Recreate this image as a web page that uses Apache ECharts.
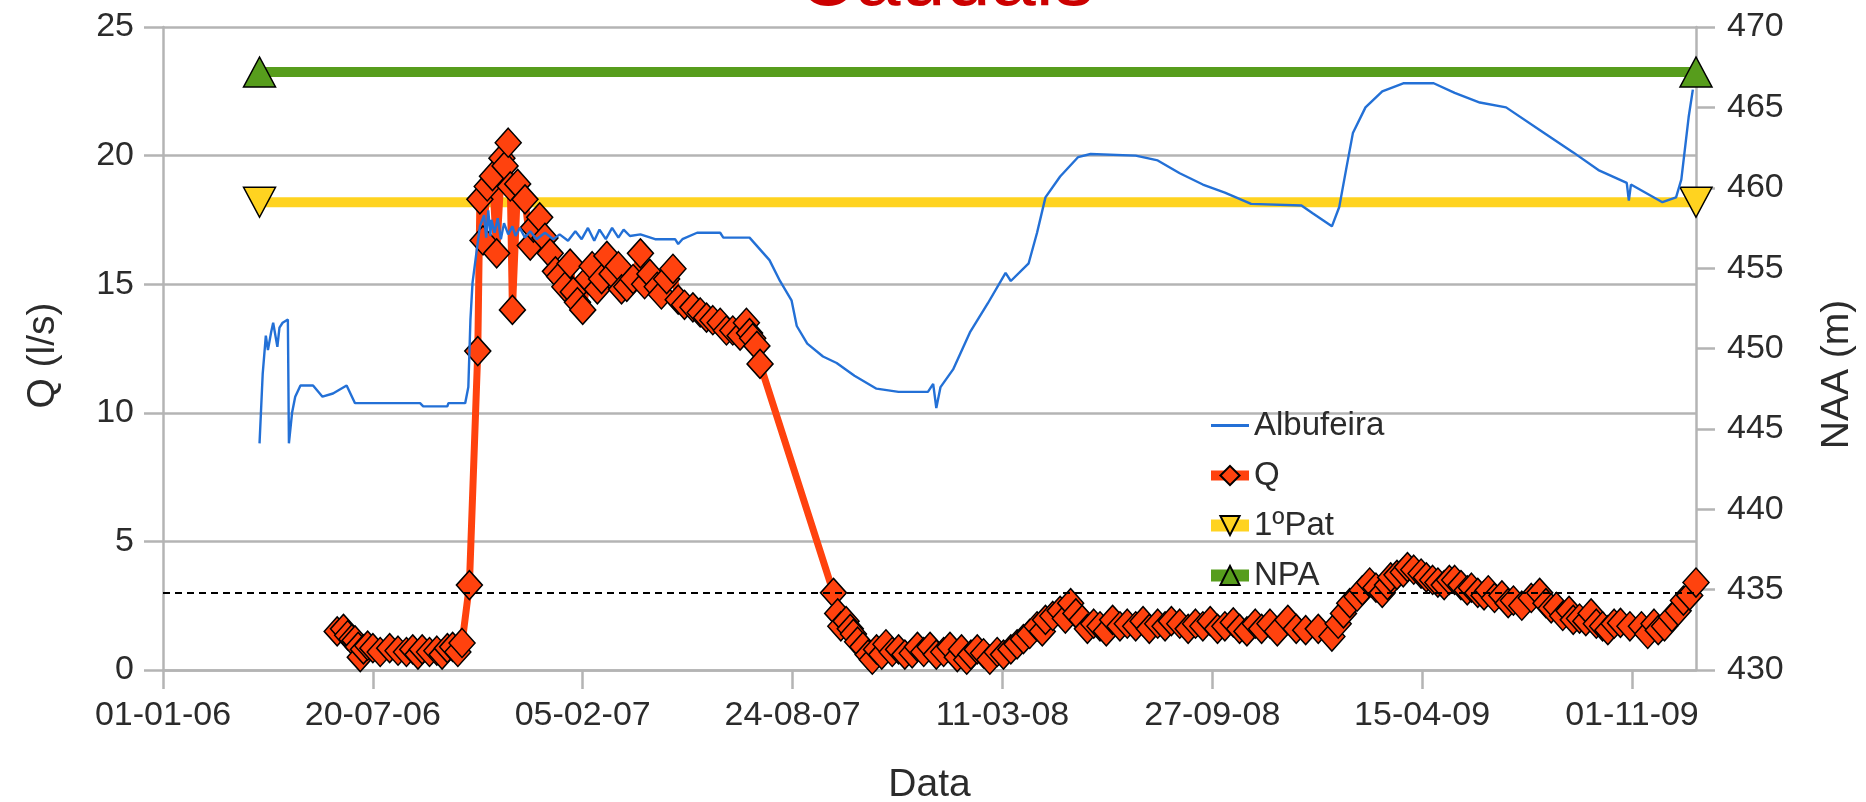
<!DOCTYPE html>
<html>
<head>
<meta charset="utf-8">
<title>Caudais</title>
<script src="https://cdn.jsdelivr.net/npm/echarts@6/dist/echarts.min.js"></script>
<style>
  html, body { margin: 0; padding: 0; background: #fff; }
  #chart { width: 1866px; height: 802px; }
</style>
</head>
<body>
<div id="chart"></div>
<script>
// x = days counted from 01-01-06
var xLabels = ['01-01-06', '20-07-06', '05-02-07', '24-08-07', '11-03-08', '27-09-08', '15-04-09', '01-11-09'];

// Q (l/s), left axis
var qData = [
  [166, 1.5], [172, 1.6], [176, 1.35], [180, 1.2], [183, 1.15], [186, 0.9], [188, 0.5], [191, 0.8],
  [195, 0.95], [200, 0.85], [207, 0.7], [216, 0.85], [224, 0.75], [232, 0.7], [238, 0.8], [243, 0.6],
  [247, 0.8], [254, 0.7], [261, 0.75], [266, 0.6], [271, 0.85], [276, 0.9], [281, 0.7], [285, 1.05],
  [292, 3.3], [300, 12.4], [302, 18.3], [305, 16.7], [309, 18.8], [314, 19.2], [318, 16.2], [323, 19.9],
  [326, 19.6], [329, 20.5], [331, 18.8], [333, 14.0], [338, 18.9], [345, 18.3], [350, 16.5], [353, 17.2],
  [359, 17.6], [364, 16.8], [369, 16.2], [374, 15.5], [378, 15.3], [383, 14.9], [388, 15.8], [391, 14.7],
  [395, 14.3], [400, 14.0], [405, 15.2], [409, 15.7], [414, 14.8], [418, 15.2], [423, 16.1], [428, 15.4],
  [434, 15.7], [437, 14.8], [442, 14.9], [448, 15.2], [455, 16.2], [459, 15.0], [464, 15.4], [471, 14.9],
  [475, 14.6], [480, 15.2], [486, 15.6], [491, 14.4], [497, 14.2], [505, 14.1], [512, 13.9], [518, 13.7],
  [524, 13.6], [531, 13.5], [537, 13.2], [543, 13.2], [550, 13.0], [556, 13.5], [559, 13.1], [562, 12.9],
  [566, 12.6], [569, 11.9],
  [639, 3.0], [643, 2.2], [646, 1.7], [651, 1.9], [655, 1.6], [658, 1.4], [662, 1.1], [667, 0.9],
  [672, 0.6], [676, 0.4], [680, 0.8], [685, 0.6], [689, 1.0], [695, 0.7], [701, 0.8], [707, 0.6],
  [714, 0.65], [719, 0.9], [725, 0.7], [731, 0.9], [737, 0.6], [744, 0.7], [750, 0.9], [757, 0.5],
  [761, 0.8], [766, 0.4], [770, 0.6], [776, 0.8], [782, 0.65], [788, 0.4], [795, 0.7], [801, 0.6],
  [808, 0.8], [814, 1.0], [820, 1.2], [826, 1.4], [833, 1.7], [838, 1.5], [841, 1.95], [848, 2.1],
  [855, 2.3], [860, 2.0], [865, 2.6], [870, 2.2], [876, 1.95], [881, 1.6], [887, 1.8], [893, 1.7],
  [899, 1.5], [905, 1.95], [912, 1.7], [919, 1.8], [927, 1.7], [934, 1.9], [940, 1.6], [948, 1.8],
  [955, 1.7], [961, 1.9], [969, 1.8], [977, 1.6], [984, 1.8], [991, 1.7], [998, 1.9], [1005, 1.6],
  [1012, 1.7], [1020, 1.85], [1026, 1.6], [1033, 1.5], [1041, 1.8], [1047, 1.6], [1055, 1.8], [1062, 1.5],
  [1072, 1.95], [1080, 1.6], [1089, 1.55], [1101, 1.6], [1114, 1.3], [1120, 1.8], [1125, 2.2], [1131, 2.6],
  [1138, 2.85], [1143, 3.1], [1150, 3.4], [1156, 3.2], [1162, 3.0], [1167, 3.3], [1170, 3.6], [1176, 3.7],
  [1182, 3.8], [1186, 4.0], [1192, 3.9], [1199, 3.75], [1204, 3.6], [1210, 3.5], [1215, 3.4], [1221, 3.3],
  [1226, 3.5], [1231, 3.5], [1237, 3.3], [1243, 3.1], [1247, 3.2], [1253, 3.0], [1259, 2.9], [1263, 3.1],
  [1269, 2.8], [1276, 2.9], [1282, 2.6], [1287, 2.7], [1295, 2.5], [1304, 2.8], [1312, 3.0], [1318, 2.6],
  [1323, 2.4], [1328, 2.45], [1334, 2.1], [1340, 2.3], [1344, 1.95], [1350, 2.0], [1356, 1.9], [1361, 2.2],
  [1366, 1.8], [1372, 1.7], [1377, 1.55], [1383, 1.8], [1389, 1.83], [1398, 1.7], [1409, 1.7], [1415, 1.4],
  [1421, 1.8], [1425, 1.55], [1431, 1.7], [1438, 2.06], [1444, 2.3], [1449, 2.7], [1455, 2.9], [1461, 3.4]
];

// Albufeira level NAA (m), right axis
var albData = [
  [92, 444.1], [95, 448.4], [98, 450.8], [100, 449.9], [103, 451.0], [105, 451.6], [109, 450.1], [111, 451.3],
  [114, 451.6], [119, 451.8], [120, 444.1], [123, 446.0], [126, 447.0], [131, 447.7], [143, 447.7], [152, 447.0],
  [162, 447.2], [175, 447.7], [183, 446.6], [245, 446.6], [248, 446.4], [271, 446.4], [272, 446.6], [288, 446.6],
  [291, 447.6], [293, 451.8], [295, 454.1], [299, 456.1], [302, 457.6], [306, 458.3], [308, 456.9], [310, 458.6],
  [312, 457.0], [313, 458.0], [316, 457.2], [319, 458.1], [322, 456.8], [325, 457.8], [329, 457.1], [333, 457.6],
  [336, 457.0], [340, 457.5], [345, 456.9], [350, 457.3], [356, 456.8], [364, 457.2], [372, 456.8], [378, 457.1],
  [386, 456.7], [393, 457.3], [399, 456.8], [405, 457.5], [411, 456.7], [416, 457.4], [422, 456.8], [428, 457.5],
  [434, 456.9], [439, 457.4], [445, 457.0], [455, 457.1], [469, 456.8], [488, 456.8], [491, 456.5], [495, 456.8],
  [509, 457.2], [531, 457.2], [534, 456.9], [559, 456.9], [578, 455.5], [588, 454.2], [599, 453.0], [604, 451.4],
  [614, 450.3], [629, 449.5], [642, 449.1], [659, 448.3], [680, 447.5], [701, 447.3], [729, 447.3], [734, 447.8],
  [737, 446.3], [741, 447.6], [753, 448.7], [769, 451.0], [786, 452.8], [803, 454.7], [808, 454.2], [825, 455.3],
  [833, 457.2], [841, 459.4], [855, 460.7], [872, 461.9], [884, 462.1], [927, 462.0], [948, 461.7], [969, 460.9],
  [991, 460.2], [1012, 459.7], [1037, 459.0], [1085, 458.9], [1096, 458.4], [1114, 457.6], [1121, 458.8], [1128, 461.3],
  [1134, 463.4], [1146, 465.0], [1162, 466.0], [1182, 466.5], [1211, 466.5], [1231, 465.9], [1255, 465.3], [1280, 465.0],
  [1312, 463.6], [1344, 462.2], [1368, 461.1], [1395, 460.3], [1397, 459.2], [1399, 460.2], [1429, 459.1], [1442, 459.4],
  [1447, 460.5], [1454, 464.4], [1458, 466.1]
];

var refDays = [92, 1461];
var patLevel = 459.1;   // 1ºPat
var npaLevel = 467.2;   // NPA
var qLimit = 3;

var FONT = "'Liberation Sans', Arial, sans-serif";
var GRID_COLOR = '#b4b4b4';
var TEXT_COLOR = '#2b2b2b';

var chart = echarts.init(document.getElementById('chart'));

var option = {
    animation: false,
    backgroundColor: '#fff',
    title: {
        text: 'Caudais',
        left: 792,
        top: -63,
        textStyle: { fontFamily: FONT, fontSize: 81, fontWeight: 'normal', color: '#cc0000' }
    },
    grid: { left: 163, right: 170, top: 27, bottom: 132, outerBoundsMode: 'none' },
    legend: {
        orient: 'vertical',
        left: 1200,
        top: 404,
        itemWidth: 38,
        itemHeight: 24,
        itemGap: 17,
        textStyle: { fontFamily: FONT, fontSize: 33, color: TEXT_COLOR },
        data: [
            { name: 'Albufeira', itemStyle: { opacity: 0 }, lineStyle: { width: 3 } },
            { name: 'Q', lineStyle: { width: 10 } },
            { name: '1ºPat', lineStyle: { width: 12 } },
            { name: 'NPA', lineStyle: { width: 12 } }
        ]
    },
    xAxis: {
        type: 'value',
        min: 0,
        max: 1461,
        interval: 200,
        name: 'Data',
        nameLocation: 'middle',
        nameGap: 96,
        nameTextStyle: { fontFamily: FONT, fontSize: 39, color: TEXT_COLOR },
        axisLine: { show: true, lineStyle: { color: GRID_COLOR, width: 2.5 } },
        axisTick: { show: true, length: 19, lineStyle: { color: GRID_COLOR, width: 2.5 } },
        axisLabel: {
            margin: 29,
            fontFamily: FONT,
            fontSize: 34,
            color: TEXT_COLOR,
            showMaxLabel: false,
            formatter: function (v) { return v % 200 === 0 ? xLabels[v / 200] : ''; }
        },
        splitLine: { show: false }
    },
    yAxis: [
        {
            type: 'value',
            min: 0,
            max: 25,
            interval: 5,
            name: 'Q (l/s)',
            nameLocation: 'middle',
            nameGap: 100,
            nameTextStyle: { fontFamily: FONT, fontSize: 39, color: TEXT_COLOR, padding: [0, 14, 0, 0] },
            axisLine: { show: true, lineStyle: { color: GRID_COLOR, width: 2.5 } },
            axisTick: { show: true, length: 19, lineStyle: { color: GRID_COLOR, width: 2.5 } },
            axisLabel: { margin: 29, fontFamily: FONT, fontSize: 34, color: TEXT_COLOR },
            splitLine: { show: true, lineStyle: { color: GRID_COLOR, width: 2.5 } }
        },
        {
            type: 'value',
            position: 'right',
            min: 430,
            max: 470,
            interval: 5,
            name: 'NAA (m)',
            nameLocation: 'middle',
            nameGap: 122,
            nameTextStyle: { fontFamily: FONT, fontSize: 39, color: TEXT_COLOR, padding: [0, 52, 0, 0] },
            axisLine: { show: true, lineStyle: { color: GRID_COLOR, width: 2.5 } },
            axisTick: { show: true, length: 19, lineStyle: { color: GRID_COLOR, width: 2.5 } },
            axisLabel: { margin: 31, fontFamily: FONT, fontSize: 34, color: TEXT_COLOR },
            splitLine: { show: false }
        }
    ],
    series: [
        {
            name: '1ºPat',
            type: 'line',
            yAxisIndex: 1,
            data: refDays.map(function (d) { return [d, patLevel]; }),
            symbol: 'triangle',
            symbolRotate: 180,
            symbolSize: [32, 30],
            lineStyle: { width: 10, color: '#ffd320' },
            itemStyle: { color: '#ffd320', borderColor: '#000', borderWidth: 1.5 },
            z: 2
        },
        {
            name: 'NPA',
            type: 'line',
            yAxisIndex: 1,
            data: refDays.map(function (d) { return [d, npaLevel]; }),
            symbol: 'triangle',
            symbolSize: [32, 30],
            lineStyle: { width: 10, color: '#579d1c' },
            itemStyle: { color: '#579d1c', borderColor: '#000', borderWidth: 1.5 },
            z: 2
        },
        {
            name: 'Q',
            type: 'line',
            data: qData,
            symbol: 'diamond',
            symbolSize: [26, 29],
            lineStyle: { width: 7, color: '#ff420e' },
            itemStyle: { color: '#ff420e', borderColor: '#000', borderWidth: 1.5 },
            markLine: {
                silent: true,
                symbol: ['none', 'none'],
                label: { show: false },
                lineStyle: { color: '#000', type: [7, 5], width: 2 },
                data: [{ yAxis: qLimit }]
            },
            z: 3
        },
        {
            name: 'Albufeira',
            type: 'line',
            yAxisIndex: 1,
            data: albData,
            showSymbol: false,
            lineStyle: { width: 2.4, color: '#2370d6' },
            itemStyle: { color: '#2370d6' },
            z: 4
        }
    ]
};

chart.setOption(option);
</script>
</body>
</html>
